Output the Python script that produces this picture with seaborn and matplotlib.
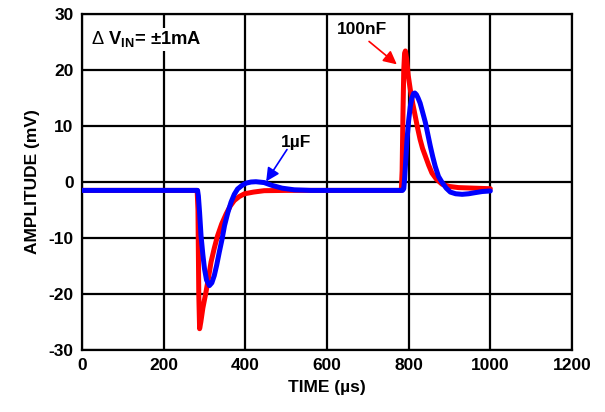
import matplotlib
matplotlib.use("Agg")
import matplotlib.pyplot as plt
import seaborn as sns
import pandas as pd

# 100nF trace (red)
red_t = [0, 282, 284, 286, 288, 291, 296, 304, 310, 316, 324, 332, 342, 353, 363, 373,
         385, 398, 420, 446, 500,
         782, 784, 786, 788, 790, 792, 795, 799, 804, 810, 816, 822, 828, 834, 841, 849,
         857, 868, 882, 900, 922, 960, 1000]
red_v = [-1.5, -1.5, -5, -20, -26.2, -25, -22.5, -19.5, -17, -14.3, -11.8, -9.6, -7.5, -5.7, -4.3, -3.3,
         -2.6, -2.1, -1.8, -1.55, -1.5,
         -1.5, 2, 12, 20, 23, 23.4, 22, 19, 16.5, 14, 11.8, 9.6, 7.6, 6, 4.6, 3,
         1.6, 0.5, -0.4, -0.8, -1.0, -1.1, -1.2]

# 1uF trace (blue)
blue_t = [0, 283, 285, 288, 291.5, 296, 300, 305, 312, 318, 324, 330, 336, 343, 349, 357,
          365, 373, 381, 392, 402, 414, 426, 446, 465, 490, 520, 560,
          785, 788, 790, 793, 796, 800, 804, 808, 812, 815, 819, 823, 828, 834, 841, 847,
          853, 859, 865, 873, 882, 892, 902, 915, 931, 947, 963, 980, 1000]
blue_v = [-1.5, -1.5, -2.5, -5.5, -9.6, -13, -15.5, -17.5, -18.5, -18, -16.7, -14.8, -12.6, -10.2, -7.8, -5.5,
          -3.6, -2.2, -1.25, -0.6, -0.2, 0, 0.05, -0.1, -0.6, -1.1, -1.4, -1.5,
          -1.5, -1.2, 0.5, 4, 7.6, 11, 13.5, 15, 15.8, 15.9, 15.6, 15, 14.1, 12.5, 10.6, 8.5,
          6.4, 4.5, 2.8, 1.0, -0.1, -1.1, -1.8, -2.1, -2.2, -2.1, -1.9, -1.7, -1.6]

x_ticks = [0, 200, 400, 600, 800, 1000, 1200]
y_ticks = [-30, -20, -10, 0, 10, 20, 30]

sns.set_theme(style="white")
plt.rcParams['font.family'] = ['Liberation Sans', 'DejaVu Sans']
plt.rcParams['mathtext.fontset'] = 'custom'
plt.rcParams['mathtext.rm'] = 'Liberation Sans'
plt.rcParams['mathtext.bf'] = 'Liberation Sans:bold'
for k in ['text.color', 'axes.labelcolor', 'xtick.color', 'ytick.color']:
    plt.rcParams[k] = 'black'

fig = plt.figure(figsize=(6.05, 4.12), dpi=100)
ax = fig.add_axes([82/605, 1-350/412, (572-82)/605, (350-14)/412])

df_red = pd.DataFrame({"t": red_t, "v": red_v})
df_blue = pd.DataFrame({"t": blue_t, "v": blue_v})
sns.lineplot(data=df_red, x="t", y="v", color="#ff0000", lw=3.6, sort=False,
             estimator=None, ax=ax, zorder=3)
sns.lineplot(data=df_blue, x="t", y="v", color="#0000ff", lw=3.6, sort=False,
             estimator=None, ax=ax, zorder=4)

fs = 12.5
ax.set_xlim(0, 1200)
ax.set_ylim(-30, 30)
ax.set_xticks(x_ticks)
ax.set_yticks(y_ticks)
ax.set_xticklabels([str(v) for v in x_ticks], fontsize=fs, fontweight='bold')
ax.set_yticklabels([str(v) for v in y_ticks], fontsize=fs, fontweight='bold')
ax.tick_params(axis='both', length=0, pad=6)
ax.grid(True, color='black', lw=1.6)
ax.set_axisbelow(True)
for s in ax.spines.values():
    s.set_color('black')
    s.set_linewidth(1.6)

ax.set_xlabel("TIME (µs)", fontsize=fs, fontweight='bold', labelpad=5)
ax.set_ylabel("AMPLITUDE (mV)", fontsize=fs, fontweight='bold', labelpad=6)

ax.text(22, 25.5, r'$\Delta$ V$_{\mathbf{IN}}$= ±1mA', fontsize=13.2, fontweight='bold',
        va='center', ha='left', zorder=6,
        bbox=dict(facecolor='white', edgecolor='none', pad=1))

ax.text(686, 27.3, "100nF", fontsize=fs, fontweight='bold', ha='center', va='center', zorder=6)
ax.annotate("", xy=(771, 21.0), xytext=(703, 25.1), zorder=6,
            arrowprops=dict(arrowstyle='-|>', color='#ff0000', lw=1.2,
                            mutation_scale=20, shrinkA=0, shrinkB=0))
ax.text(524, 7.1, "1µF", fontsize=fs, fontweight='bold', ha='center', va='center', zorder=6)
ax.annotate("", xy=(451, 0.1), xytext=(502, 5.8), zorder=6,
            arrowprops=dict(arrowstyle='-|>', color='#0000ff', lw=1.2,
                            mutation_scale=20, shrinkA=0, shrinkB=0))

fig.savefig("out.png", dpi=100)
